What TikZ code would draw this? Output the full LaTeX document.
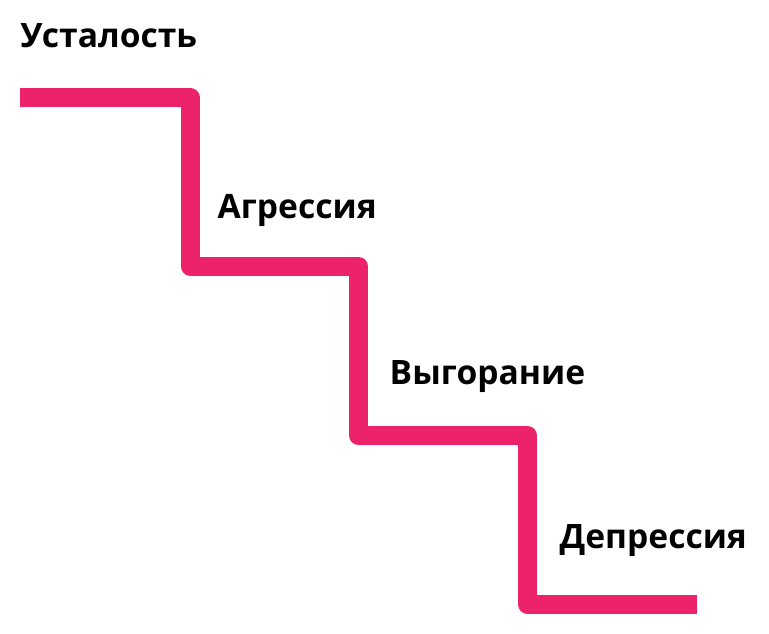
\documentclass[tikz,border=0pt]{standalone}
\usepackage{fontspec}
\setmainfont{Open Sans}
\begin{document}
\begin{tikzpicture}[x=1pt,y=-1pt,
  stair/.style={draw=stairpink,line width=19pt,line join=round,line cap=butt},
  lbl/.style={font=\fontsize{33.6}{40}\selectfont\bfseries,anchor=base west,inner sep=0pt,text=black}]
\definecolor{stairpink}{HTML}{EC236B}
\useasboundingbox (0,0) rectangle (769,633);
\coordinate (s0) at (20,97.5);
\coordinate (c1) at (190,97.5);
\coordinate (c2) at (190,266);
\coordinate (c3) at (358.5,266);
\coordinate (c4) at (358.5,435.5);
\coordinate (c5) at (527.5,435.5);
\coordinate (c6) at (527.5,604.5);
\coordinate (e0) at (697,604.5);
\draw[stair] (s0) -- (c1) -- (c2) -- (c3) -- (c4) -- (c5) -- (c6) -- (e0);
\node[lbl] (l1) at (20.5,47) {Усталость};
\node[lbl] (l2) at (217.5,218) {Агрессия};
\node[lbl] (l3) at (389.5,384) {Выгорание};
\node[lbl] (l4) at (559.5,548) {Депрессия};
\end{tikzpicture}
\end{document}
